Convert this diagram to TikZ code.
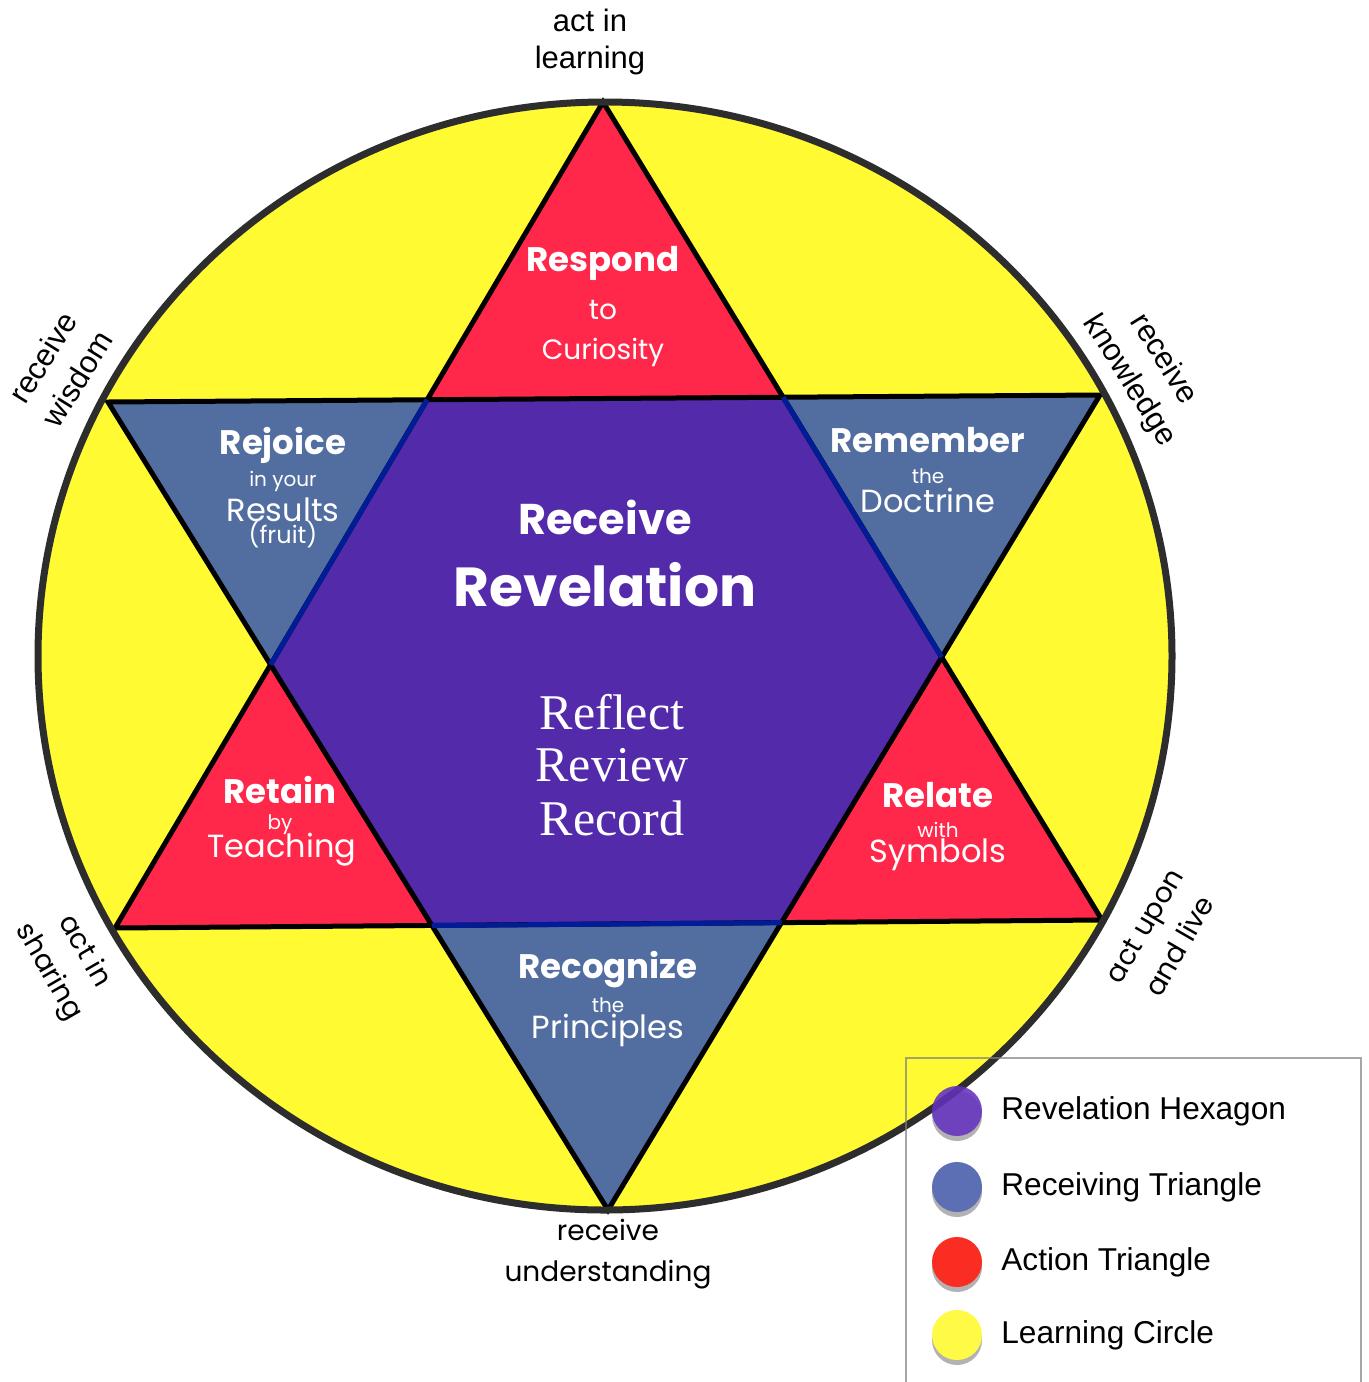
\documentclass[tikz,border=0pt]{standalone}
\usepackage{fontspec}
\setmainfont{Liberation Serif}
\newfontfamily\comic{Poppins}
\newfontfamily\helv{Liberation Sans}
\usetikzlibrary{shadows}
\definecolor{cyellow}{RGB}{255,250,50}
\definecolor{cred}{RGB}{255,40,75}
\definecolor{cblue}{RGB}{82,110,160}
\definecolor{cpurple}{RGB}{83,42,170}
\definecolor{cdarkblue}{RGB}{0,28,150}
\definecolor{cring}{RGB}{45,45,45}
\definecolor{lpurple}{RGB}{100,50,190}
\definecolor{lblue}{RGB}{92,110,180}
\definecolor{lred}{RGB}{250,45,35}
\definecolor{lyellow}{RGB}{255,250,70}
\tikzset{
  edge/.style={line width=2.5pt, line join=miter},
  title/.style={text=white, font=\comic\bfseries\fontsize{17}{20}\selectfont, inner sep=0pt},
  small/.style={text=white, font=\comic\fontsize{10}{12}\selectfont, inner sep=0pt},
  big/.style={text=white, font=\comic\fontsize{16}{19}\selectfont, inner sep=0pt},
  serifw/.style={text=white, font=\fontsize{25}{27}\selectfont, inner sep=0pt},
  outerh/.style={align=center, font=\helv\fontsize{15.5}{18.5}\selectfont, inner sep=0pt},
  outerhr/.style={align=center, font=\helv\fontsize{15.5}{20}\selectfont, inner sep=0pt},
  outerc/.style={align=center, font=\comic\fontsize{14}{20.5}\selectfont, inner sep=0pt},
  legdot/.style={circle, minimum size=25pt, inner sep=0pt,
    drop shadow={shadow xshift=0pt, shadow yshift=-2.5pt, opacity=0.3, fill=black}},
  legtext/.style={anchor=west, font=\helv\fontsize{15.8}{18}\selectfont, inner sep=0pt}
}
\begin{document}
\begin{tikzpicture}[x=0.5pt,y=-0.5pt]
\useasboundingbox (0,0) rectangle (1369,1382);
% star vertices
\coordinate (T) at (603,102);
\coordinate (UR) at (1100,395);
\coordinate (LR) at (1102,920);
\coordinate (B) at (608,1210);
\coordinate (LL) at (115,928);
\coordinate (UL) at (108,402);
% hexagon corners
\coordinate (h1) at (intersection of T--LL and UL--UR);
\coordinate (h2) at (intersection of T--LR and UL--UR);
\coordinate (h3) at (intersection of T--LR and UR--B);
\coordinate (h4) at (intersection of LL--LR and UR--B);
\coordinate (h5) at (intersection of LL--LR and UL--B);
\coordinate (h6) at (intersection of T--LL and UL--B);
% learning circle
\fill[cyellow] (605,656) ellipse [x radius=567, y radius=554];
% triangles
\fill[cred] (T) -- (LR) -- (LL) -- cycle;
\fill[cblue] (UL) -- (UR) -- (B) -- cycle;
\fill[cpurple] (h1) -- (h2) -- (h3) -- (h4) -- (h5) -- (h6) -- cycle;
\draw[edge] (T) -- (LR) -- (LL) -- cycle;
\draw[edge] (UL) -- (UR) -- (B) -- cycle;
\draw[edge, cdarkblue] (h2) -- (h3);
\draw[edge, cdarkblue] (h4) -- (h5);
\draw[edge, cdarkblue] (h6) -- (h1);
\draw[cring, line width=3.5pt] (605,656) ellipse [x radius=567, y radius=554];
% texts in triangles
\node[title] (respond) at (603,263) {Respond};
\node[small, font=\comic\fontsize{14}{16}\selectfont] (to) at (603,310) {to};
\node[big, font=\comic\fontsize{14}{16}\selectfont] (curiosity) at (603,352) {Curiosity};
\node[title] (rejoice) at (283,445) {Rejoice};
\node[small] (inyour) at (283,481) {in your};
\node[big] (results) at (283,510) {Results};
\node[small, font=\comic\fontsize{12}{14}\selectfont] (fruit) at (283,535) {(fruit)};
\node[title] (remember) at (928,440) {Remember};
\node[small] (the1) at (928,476) {the};
\node[big] (doctrine) at (928,500) {Doctrine};
\node[title] (retain) at (280,790) {Retain};
\node[small] (by) at (280,825) {by};
\node[big] (teaching) at (282,850) {Teaching};
\node[title] (relate) at (938,795) {Relate};
\node[small] (with) at (938,830) {with};
\node[big] (symbols) at (938,855) {Symbols};
\node[title] (recognize) at (608,970) {Recognize};
\node[small] (the2) at (608,1005) {the};
\node[big] (principles) at (608,1030) {Principles};
\node[title, font=\comic\bfseries\fontsize{21.5}{24}\selectfont] (receive) at (605,517) {Receive};
\node[title, font=\comic\bfseries\fontsize{27.5}{30}\selectfont] (revelation) at (605,585) {Revelation};
\node[serifw] (reflect) at (612,712) {Reflect};
\node[serifw] (review) at (612,765) {Review};
\node[serifw] (record) at (612,818) {Record};
% outer labels
\node[outerh] (actlearn) at (590,42) {act in\\learning};
\node[outerc] (recund) at (608,1254) {receive\\understanding};
\node[outerhr, rotate=58] (recwis) at (60,368) {receive\\wisdom};
\node[outerhr, rotate=-58] (recknow) at (1146,370) {receive\\knowledge};
\node[outerc, rotate=-60] (actshare) at (66,962) {act in\\sharing};
\node[outerc, rotate=60] (actlive) at (1162,936) {act upon\\and live};
% legend
\draw[gray, opacity=0.7, line width=1.2pt] (906,1400) -- (906,1058) -- (1361,1058) -- (1361,1400);
\node[legdot, fill=lpurple, opacity=0.88] (d1) at (957,1111) {};
\node[legdot, fill=lblue] (d2) at (957,1187) {};
\node[legdot, fill=lred] (d3) at (957,1262) {};
\node[legdot, fill=lyellow] (d4) at (957,1335) {};
\node[legtext] (l1) at (1001,1111) {Revelation Hexagon};
\node[legtext] (l2) at (1001,1187) {Receiving Triangle};
\node[legtext] (l3) at (1001,1262) {Action Triangle};
\node[legtext] (l4) at (1001,1335) {Learning Circle};
\end{tikzpicture}
\end{document}
